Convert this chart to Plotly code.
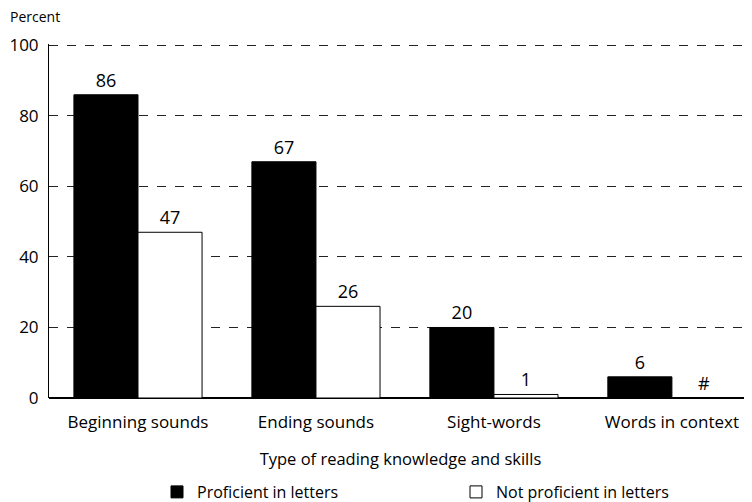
import plotly.graph_objects as go

categories = ["Beginning sounds", "Ending sounds", "Sight-words", "Words in context"]
proficient = [86, 67, 20, 6]
not_proficient = [47, 26, 1, 0]
not_proficient_labels = ["47", "26", "1", "#"]
y_ticks = [0, 20, 40, 60, 80, 100]

FONT = "Open Sans"
# page body has an 8px margin, so the figure is 8px smaller than the window
W, H = 744, 494
PLOT_W, PLOT_H = 703, 354
x_pos = list(range(len(categories)))

fig = go.Figure()
fig.add_trace(go.Bar(
    x=x_pos, y=proficient, name="Proficient in letters",
    marker=dict(color="black", line=dict(color="black", width=1)),
    text=[str(v) for v in proficient], textposition="outside",
    textfont=dict(size=18, color="black", family=FONT), cliponaxis=False,
    legend="legend",
))
fig.add_trace(go.Bar(
    x=x_pos, y=not_proficient, name="Not proficient in letters",
    marker=dict(color="white", line=dict(color="black", width=1)),
    text=not_proficient_labels, textposition="outside",
    textfont=dict(size=18, color="black", family=FONT), cliponaxis=False,
    legend="legend2",
))

legend_common = dict(orientation="h", yref="container", y=1 - 484 / H, yanchor="middle",
                     xref="container", xanchor="left", font=dict(size=16),
                     bgcolor="rgba(0,0,0,0)", itemwidth=30)

fig.update_layout(
    width=W, height=H,
    margin=dict(l=41, r=0, t=36, b=104, autoexpand=False),
    paper_bgcolor="white", plot_bgcolor="white",
    font=dict(family=FONT, size=16, color="black"),
    barmode="group", bargap=0.28, bargroupgap=0,
    showlegend=True,
    legend=dict(legend_common, x=149 / W),
    legend2=dict(legend_common, x=448 / W),
    xaxis=dict(
        range=[-0.5, 3.45], tickmode="array", tickvals=x_pos, ticktext=categories,
        showgrid=False, zeroline=False, showline=False, ticks="",
        title=dict(text="Type of reading knowledge and skills", standoff=21,
                   font=dict(size=16.5)),
        tickfont=dict(size=17), ticklabelstandoff=12,
    ),
    yaxis=dict(
        range=[0, 100.4], tickvals=y_ticks, showgrid=True, gridcolor="#222",
        griddash="dash", gridwidth=1, zeroline=True, zerolinecolor="black",
        zerolinewidth=1.5, showline=True, linecolor="black", linewidth=1,
        ticks="", tickfont=dict(size=17), ticklabelstandoff=6,
    ),
)
fig.add_annotation(text="Percent", xref="paper", yref="paper", x=-41 / PLOT_W,
                   y=(PLOT_H + 27) / PLOT_H, xanchor="left", yanchor="middle",
                   showarrow=False, font=dict(size=14, family=FONT))

fig.write_html("out.html")
